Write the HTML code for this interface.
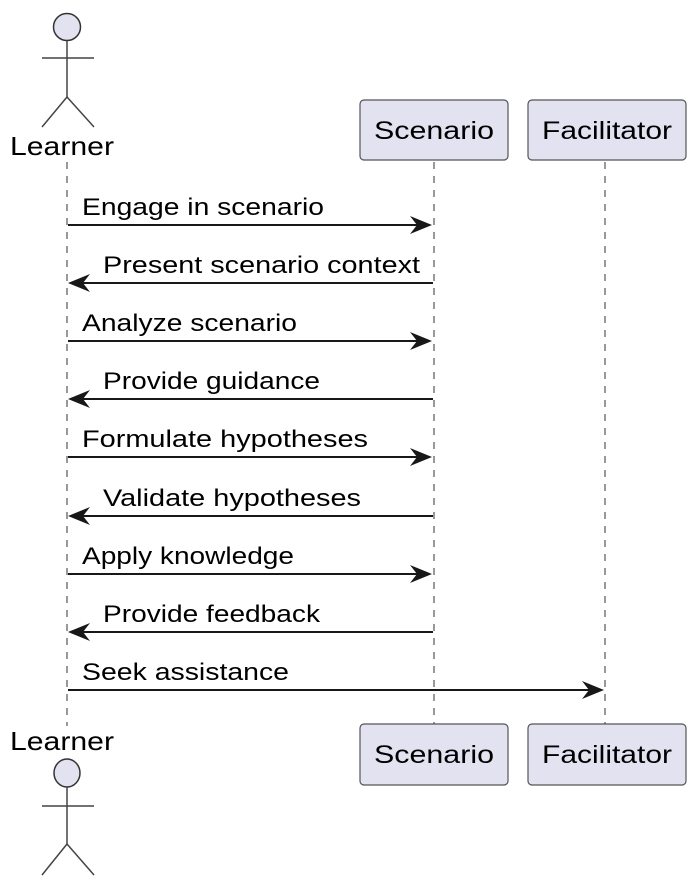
<!DOCTYPE html>
<html><head><meta charset="utf-8"><style>
html,body{margin:0;padding:0;background:#fff;}
svg{display:block;}
text{font-family:"Liberation Sans",sans-serif;font-size:24px;fill:#000;}
</style></head><body>
<svg width="698" height="888" viewBox="0 0 698 888" xmlns="http://www.w3.org/2000/svg">
<g stroke="#555" stroke-width="1.2" stroke-dasharray="7,7" fill="none">
<line x1="67" y1="162" x2="67" y2="726"/>
<line x1="434" y1="162" x2="434" y2="724"/>
<line x1="605" y1="162" x2="605" y2="724"/>
</g>
<g stroke="#444" stroke-width="1.5" fill="none">
<circle cx="67" cy="27" r="13.5" fill="#e2e2f0" stroke="#333"/>
<line x1="67" y1="41" x2="67" y2="97"/>
<line x1="42" y1="58" x2="94" y2="58"/>
<line x1="67" y1="97" x2="42" y2="127"/>
<line x1="67" y1="97" x2="94" y2="127"/>
</g>
<text x="10" y="155" textLength="104" lengthAdjust="spacingAndGlyphs" style="font-size:26px">Learner</text>
<g stroke="#444" stroke-width="1.5" fill="none">
<ellipse cx="67" cy="773" rx="13" ry="14" fill="#e2e2f0" stroke="#333"/>
<line x1="67" y1="787" x2="67" y2="844"/>
<line x1="42" y1="806" x2="94" y2="806"/>
<line x1="67" y1="844" x2="42" y2="875"/>
<line x1="67" y1="844" x2="94" y2="875"/>
</g>
<text x="10" y="750" textLength="104" lengthAdjust="spacingAndGlyphs" style="font-size:26px">Learner</text>
<g fill="#e2e2f0" stroke="#555" stroke-width="1.2">
<rect x="360" y="100" width="148" height="60" rx="4"/>
<rect x="528" y="100" width="158" height="60" rx="4"/>
<rect x="360" y="724" width="148" height="61" rx="4"/>
<rect x="528" y="724" width="158" height="61" rx="4"/>
</g>
<text x="374" y="139" textLength="120" lengthAdjust="spacingAndGlyphs" style="font-size:25px">Scenario</text>
<text x="542" y="139" textLength="130" lengthAdjust="spacingAndGlyphs" style="font-size:25px">Facilitator</text>
<text x="374" y="763" textLength="120" lengthAdjust="spacingAndGlyphs" style="font-size:25px">Scenario</text>
<text x="542" y="763" textLength="130" lengthAdjust="spacingAndGlyphs" style="font-size:25px">Facilitator</text>
<g stroke="#181818" stroke-width="2">
<line x1="68" y1="225" x2="428" y2="225"/>
<line x1="72" y1="283" x2="433" y2="283"/>
<line x1="68" y1="341" x2="428" y2="341"/>
<line x1="72" y1="399" x2="433" y2="399"/>
<line x1="68" y1="457" x2="428" y2="457"/>
<line x1="72" y1="516" x2="433" y2="516"/>
<line x1="68" y1="574" x2="428" y2="574"/>
<line x1="72" y1="632" x2="433" y2="632"/>
<line x1="68" y1="690" x2="600" y2="690"/>
</g>
<g fill="#181818">
<polygon points="432,225 410,216 417,225 410,234"/>
<polygon points="68,283 90,274 83,283 90,292"/>
<polygon points="432,341 410,332 417,341 410,350"/>
<polygon points="68,399 90,390 83,399 90,408"/>
<polygon points="432,457 410,448 417,457 410,466"/>
<polygon points="68,516 90,507 83,516 90,525"/>
<polygon points="432,574 410,565 417,574 410,583"/>
<polygon points="68,632 90,623 83,632 90,641"/>
<polygon points="604,690 582,681 589,690 582,699"/>
</g>
<text x="82" y="215" textLength="242" lengthAdjust="spacingAndGlyphs">Engage in scenario</text>
<text x="103" y="273" textLength="317" lengthAdjust="spacingAndGlyphs">Present scenario context</text>
<text x="82" y="331" textLength="215" lengthAdjust="spacingAndGlyphs">Analyze scenario</text>
<text x="103" y="389" textLength="217" lengthAdjust="spacingAndGlyphs">Provide guidance</text>
<text x="82" y="447" textLength="286" lengthAdjust="spacingAndGlyphs">Formulate hypotheses</text>
<text x="103" y="506" textLength="258" lengthAdjust="spacingAndGlyphs">Validate hypotheses</text>
<text x="82" y="564" textLength="212" lengthAdjust="spacingAndGlyphs">Apply knowledge</text>
<text x="103" y="622" textLength="217" lengthAdjust="spacingAndGlyphs">Provide feedback</text>
<text x="82" y="680" textLength="207" lengthAdjust="spacingAndGlyphs">Seek assistance</text>
</svg>
</body></html>
